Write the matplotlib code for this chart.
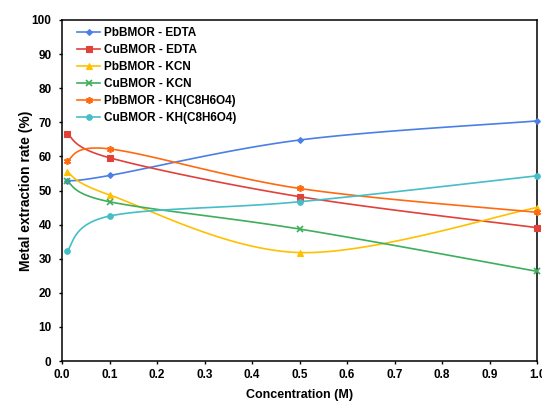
import numpy as np
import matplotlib
matplotlib.use("Agg")
import matplotlib.pyplot as plt

conc = [0.01, 0.1, 0.5, 1.0]
series_names = ["PbBMOR - EDTA", "CuBMOR - EDTA", "PbBMOR - KCN",
                "CuBMOR - KCN", "PbBMOR - KH(C8H6O4)", "CuBMOR - KH(C8H6O4)"]
pb_edta = [52.8, 54.4, 64.8, 70.4]
cu_edta = [66.7, 59.6, 48.2, 39.1]
pb_kcn = [55.5, 48.7, 31.8, 45.0]
cu_kcn = [52.7, 46.7, 38.7, 26.3]
pb_kh = [58.7, 62.2, 50.6, 43.6]
cu_kh = [32.2, 42.5, 46.7, 54.3]
xticks = [0.0, 0.1, 0.2, 0.3, 0.4, 0.5, 0.6, 0.7, 0.8, 0.9, 1.0]
yticks = [0, 10, 20, 30, 40, 50, 60, 70, 80, 90, 100]

colors = ["#4A7FE6", "#E2413A", "#FFC000", "#3DAF5B", "#FF6A10", "#45BEC8"]
markers = ["D", "s", "^", "x", (6, 2, 0), "o"]
msizes = [3, 4, 4.5, 4.5, 5, 4]

def excel_smooth(x, y, n=40):
    p = np.column_stack([x, y]).astype(float)
    out = []
    m = len(p)
    for i in range(m - 1):
        p0 = p[i - 1] if i > 0 else p[i]
        p1 = p[i]
        p2 = p[i + 1]
        p3 = p[i + 2] if i + 2 < m else p[i + 1]
        c1 = p1 + (p2 - p0) / 6.0
        c2 = p2 - (p3 - p1) / 6.0
        t = np.linspace(0, 1, n)[:, None]
        seg = ((1 - t) ** 3) * p1 + 3 * ((1 - t) ** 2) * t * c1 + 3 * (1 - t) * t ** 2 * c2 + t ** 3 * p2
        out.append(seg if i == 0 else seg[1:])
    seg = np.vstack(out)
    return seg[:, 0], seg[:, 1]

plt.rcParams['font.family'] = ['Liberation Sans', 'DejaVu Sans']
fig = plt.figure(figsize=(5.42, 4.01), dpi=100)
ax = fig.add_axes([62 / 542, 1 - 361 / 401, 475 / 542, 341 / 401])

data = [pb_edta, cu_edta, pb_kcn, cu_kcn, pb_kh, cu_kh]
for name, vals, c, mk, ms in zip(series_names, data, colors, markers, msizes):
    mw = 1.2 if (mk == "x" or isinstance(mk, tuple)) else 0.8
    sx, sy = excel_smooth(conc, vals)
    ax.plot(sx, sy, color=c, lw=1.2, clip_on=False, zorder=2)
    ax.plot(conc, vals, linestyle="none", marker=mk, color=c, ms=ms,
            mew=mw, clip_on=False, zorder=3)
    ax.plot([], [], color=c, lw=1.2, marker=mk, ms=ms, label=name, mew=mw)

ax.set_xlim(0, 1.0)
ax.set_ylim(0, 100)
ax.set_xticks(xticks)
ax.set_yticks(yticks)
ax.set_xticklabels([f"{v:.1f}" for v in xticks])
ax.set_yticklabels([str(v) for v in yticks])
for s in ax.spines.values():
    s.set_linewidth(1.1)
    s.set_color("black")
ax.tick_params(direction="out", length=2.5, width=1.0, labelsize=8.5)
ax.tick_params(axis="y", pad=5)
ax.tick_params(axis="x", pad=3)
for lab in ax.get_xticklabels() + ax.get_yticklabels():
    lab.set_fontweight("bold")
ax.set_xlabel("Concentration (M)", fontsize=9, fontweight="bold", labelpad=6)
ax.set_ylabel("Metal extraction rate (%)", fontsize=10, fontweight="bold")
ax.yaxis.set_label_coords(-0.061, 0.5)

leg = ax.legend(loc="upper left", bbox_to_anchor=(0.0137, 1.004), frameon=False,
                prop={"size": 8.5, "weight": "bold"}, handlelength=2.0,
                handletextpad=0.3, labelspacing=0.42, borderaxespad=0.3)

fig.savefig("out.png", dpi=100)
